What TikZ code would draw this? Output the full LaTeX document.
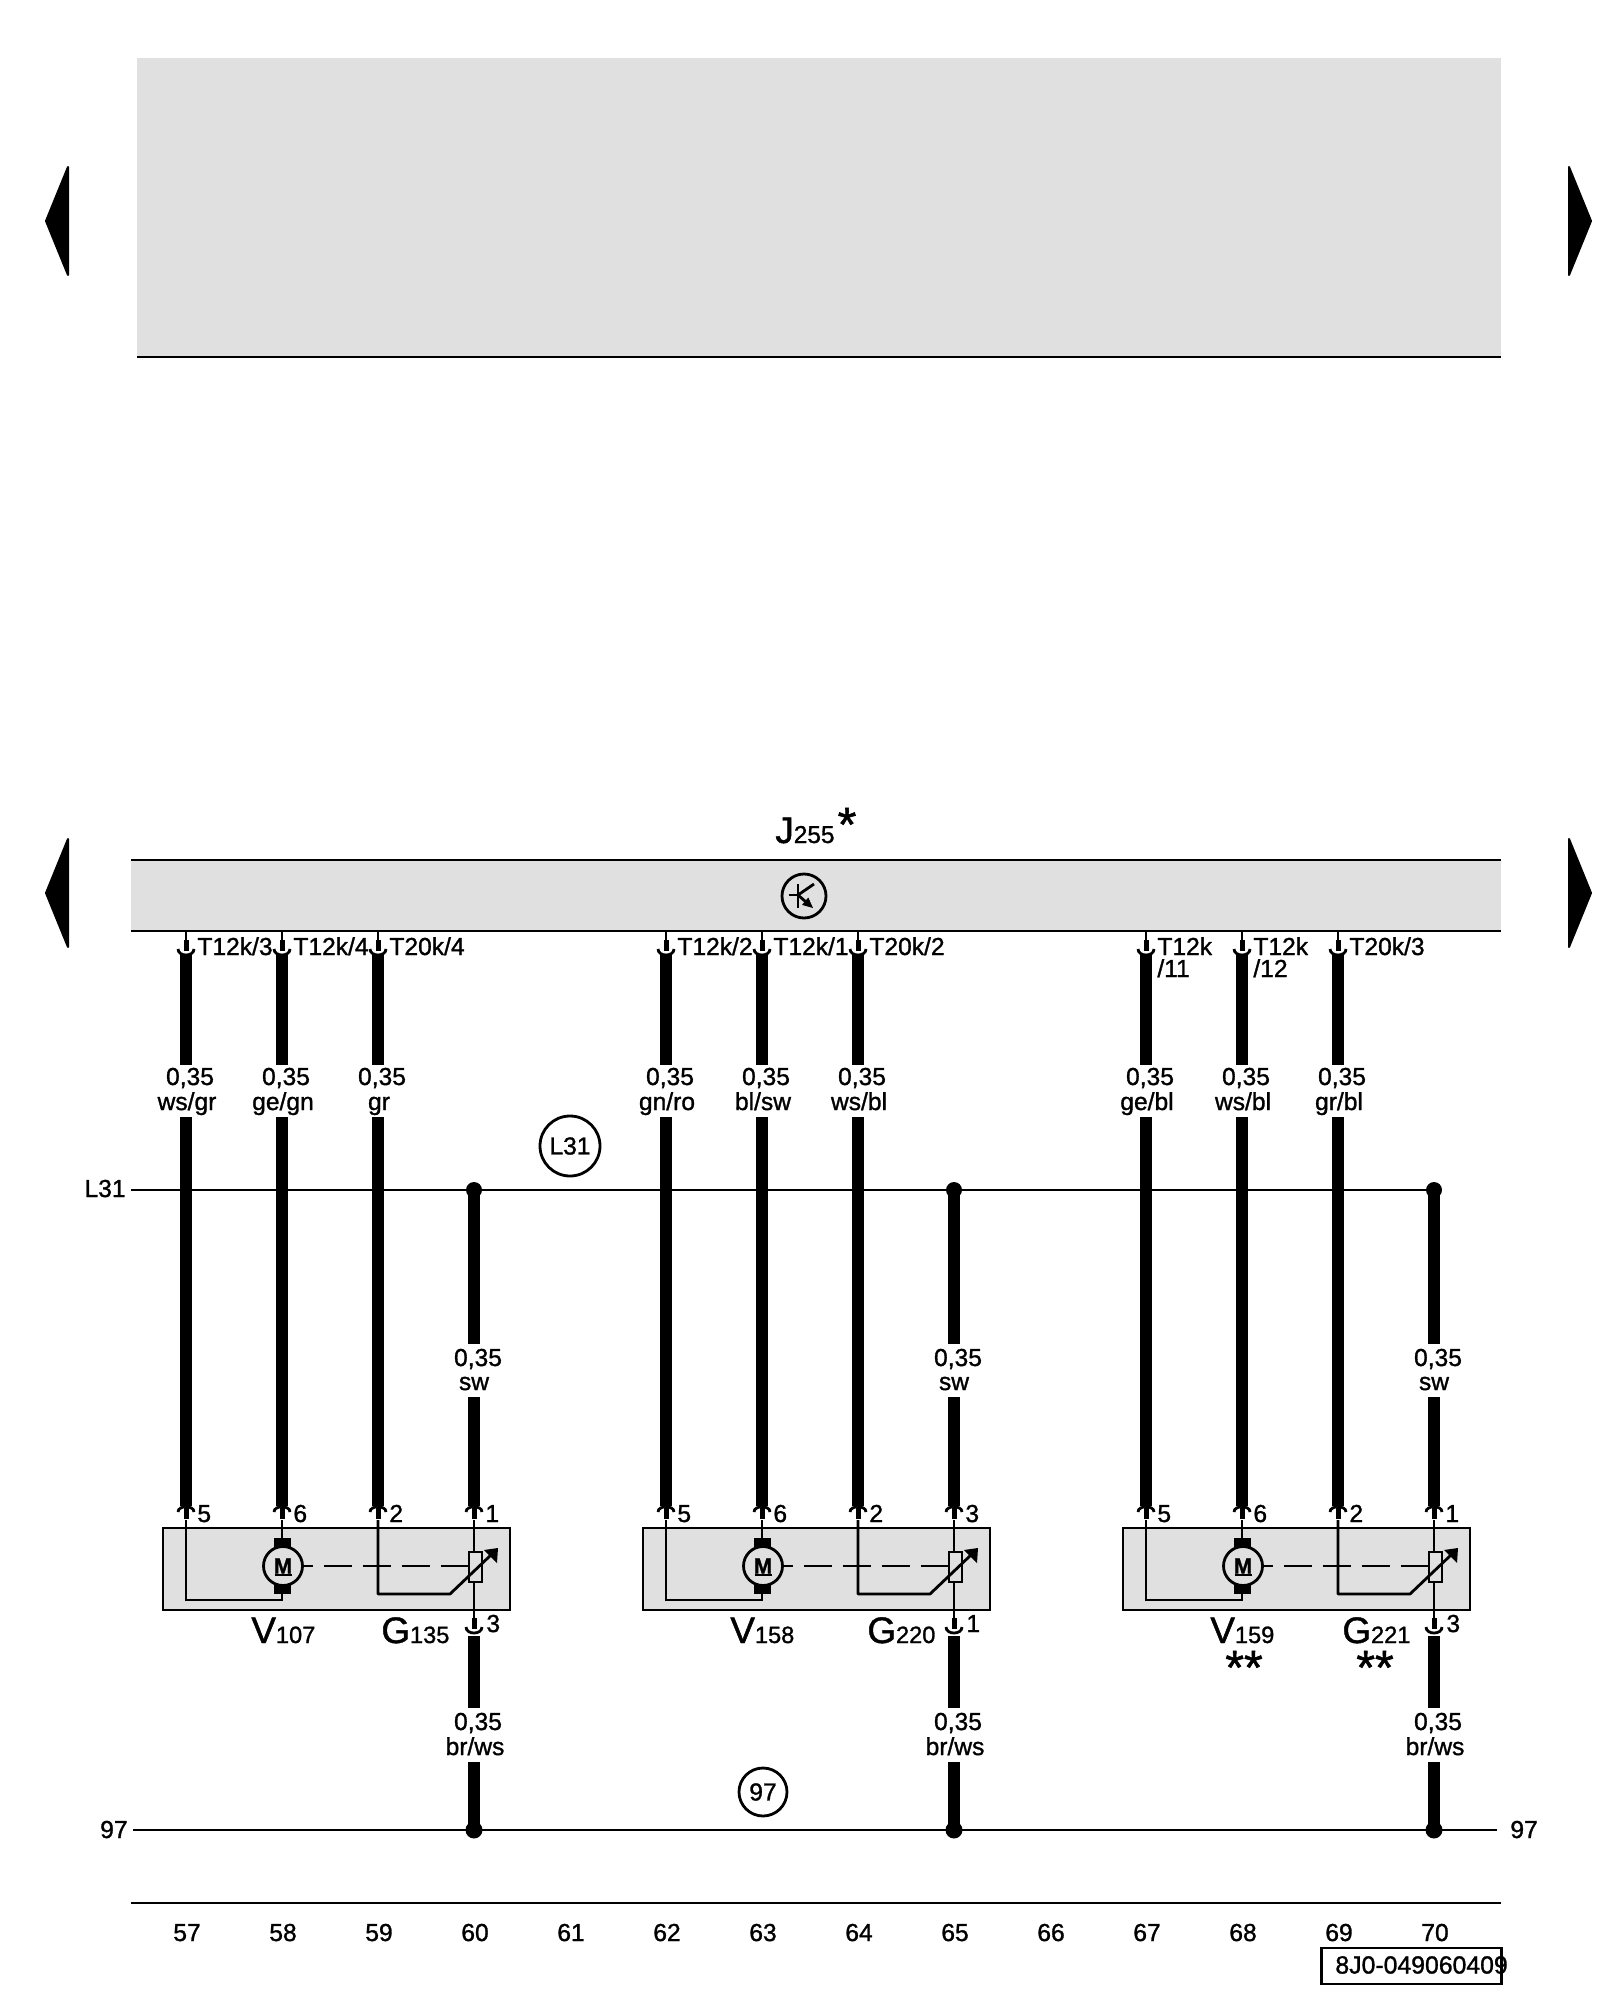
\documentclass[tikz,border=0pt]{standalone}
\usepackage{fontspec}
\setmainfont[RawFeature={embolden=1.2}]{Liberation Sans}
\definecolor{boxgray}{HTML}{E0E0E0}
\tikzset{
  thinw/.style={line width=1.4pt},
  thickw/.style={line width=6.2pt},
  stubw/.style={line width=2.5pt},
  lab/.style={font=\fontsize{12.3}{14}\selectfont,inner sep=0pt,anchor=base},
  labw/.style={lab,anchor=base west},
  labe/.style={lab,anchor=base east},
  namew/.style={inner sep=0pt,anchor=base west},
  starn/.style={font=\fontsize{24}{26}\selectfont,inner sep=0pt,anchor=base},
  ringn/.style={draw,circle,line width=1.4pt,inner sep=0pt,anchor=center},
  navarrow/.style={fill=black,draw=black,line width=1pt,line join=round},
}
\newcommand\bigname[2]{{\fontsize{18.4}{20}\selectfont #1}{\fontsize{11.8}{13}\selectfont #2}}
% connector seen from the control unit (cup opens upward)
\newcommand\cupdown[2]{%
  \draw[stubw] (#1,#2-9) -- (#1,#2+2);
  \draw[thinw] ({#1-8},#2) .. controls ({#1-8},#2+8) and ({#1+8},#2+8) .. ({#1+8},#2);}
% connector seen from the component (cup opens downward)
\newcommand\cupup[2]{%
  \draw[stubw] (#1,#2-4) -- (#1,#2+7);
  \draw[thinw] ({#1-8},#2) .. controls ({#1-8},#2-7) and ({#1+8},#2-7) .. ({#1+8},#2);}
% x, name, colour, pin text, pin number
\newcommand\uplink[5]{%
  \coordinate (#2a) at (#1,931);
  \coordinate (#2b) at (#1,945);
  \coordinate (#2c) at (#1,955);
  \coordinate (#2d) at (#1,1065);
  \coordinate (#2e) at (#1,1117);
  \coordinate (#2f) at (#1,1506);
  \draw[thinw] (#2a) -- (#2b);
  \cupdown{#1}{949}
  \draw[thickw] (#2c) -- (#2d);
  \draw[thickw] (#2e) -- (#2f);
  \cupup{#1}{1512}
  \node[lab] at ({#1+4},1085) {0,35};
  \node[lab] at ({#1+1},1110) {#3};
  \node[labw] at ({#1+11},955) {#4};
  \node[labw] at ({#1+11},1522) {#5};}
% x, name, pin number (L31 feed)
\newcommand\feedlink[3]{%
  \coordinate (#2a) at (#1,1190);
  \coordinate (#2b) at (#1,1344);
  \coordinate (#2c) at (#1,1397);
  \coordinate (#2d) at (#1,1506);
  \draw[thickw] (#2a) -- (#2b);
  \draw[thickw] (#2c) -- (#2d);
  \fill (#2a) circle[radius=8];
  \cupup{#1}{1512}
  \node[lab] at ({#1+4},1366) {0,35};
  \node[lab] at (#1,1390) {sw};
  \node[labw] at ({#1+11},1522) {#3};}
% x, name, pin number (97 return)
\newcommand\returnlink[3]{%
  \coordinate (#2a) at (#1,1636);
  \coordinate (#2b) at (#1,1708);
  \coordinate (#2c) at (#1,1762);
  \coordinate (#2d) at (#1,1830);
  \cupdown{#1}{1627}
  \draw[thickw] (#2a) -- (#2b);
  \draw[thickw] (#2c) -- (#2d);
  \fill (#2d) circle[radius=8.5];
  \node[lab] at ({#1+4},1730) {0,35};
  \node[lab] at ({#1+1},1755) {br/ws};
  \node[labw] at ({#1+12},1632) {#3};}
% x shift, name prefix
\newcommand\actuator[2]{%
  \begin{scope}[shift={(#1,0)}]
    \draw[thinw,fill=boxgray] (163,1528) rectangle (510,1610);
    % motor
    \fill (274,1538) rectangle (291,1548);
    \fill (274,1585) rectangle (291,1594);
    \node[draw,circle,thinw,fill=boxgray,minimum size=19.5pt,inner sep=0pt,
          font=\fontsize{11}{13}\selectfont\bfseries] (#2mot) at (283,1566) {M};
    \coordinate (#2ua) at (275,1575);
    \coordinate (#2ub) at (292,1575);
    \draw[line width=1pt] (#2ua) -- (#2ub);
    % potentiometer
    \node[draw,rectangle,thinw,fill=boxgray,minimum width=6.5pt,minimum height=15pt,inner sep=0pt] (#2res) at (475.5,1567) {};
    \draw[thinw,dash pattern=on 14pt off 5.5pt,dash phase=9.5pt] (#2mot.east) -- (#2mot.east -| #2res.west);
    % wiring
    \coordinate (#2p1) at (186,1520);
    \coordinate (#2p1b) at (186,1600);
    \coordinate (#2p2) at (282,1520);
    \coordinate (#2p3) at (378,1520);
    \coordinate (#2p3b) at (378,1594);
    \coordinate (#2p3c) at (450,1594);
    \coordinate (#2tip) at (492,1554);
    \coordinate (#2p4) at (474,1520);
    \coordinate (#2p5) at (474,1627);
    \draw[thinw] (#2p1) -- (#2p1b) -- (282,1600) -- (282,1594);
    \draw[thinw] (#2p2) -- (282,1538);
    \draw[thinw,line join=round] (#2p3) -- (#2p3b) -- (#2p3c) -- (#2tip);
    \fill (498,1548) -- (484,1550) -- (497,1563) -- cycle;
    \draw[thinw] (#2p4) -- (#2p4 |- #2res.north);
    \draw[thinw] (#2p4 |- #2res.south) -- (#2p5);
  \end{scope}}
\begin{document}
\begin{tikzpicture}[x=0.5pt,y=-0.5pt]
\useasboundingbox (0,0) rectangle (1600,2000);
% upper empty panel
\fill[boxgray] (137,58) rectangle (1501,357);
\coordinate (pa) at (137,357);
\coordinate (pb) at (1501,357);
\draw[thinw] (pa) -- (pb);
% navigation arrows
\draw[navarrow] (46,221) -- (68,167) -- (68,275) -- cycle;
\draw[navarrow] (1591,221) -- (1569,167) -- (1569,275) -- cycle;
\draw[navarrow] (46,893) -- (68,839) -- (68,947) -- cycle;
\draw[navarrow] (1591,893) -- (1569,839) -- (1569,947) -- cycle;
% control unit band
\fill[boxgray] (131,860) rectangle (1501,931);
\coordinate (ba) at (131,860);
\coordinate (bb) at (1501,860);
\coordinate (bc) at (131,931);
\coordinate (bd) at (1501,931);
\draw[thinw] (ba) -- (bb);
\draw[thinw] (bc) -- (bd);
% transistor symbol
\node[ringn,minimum size=22pt] (tr) at (804,896) {};
\draw[thinw] (798,884) -- (798,908);
\draw[thinw] (789,895) -- (798,895);
\draw[thinw] (798,895) -- (814,884);
\draw[thinw] (798,895) -- (806,902);
\fill (813,908) -- (808.3,897.5) -- (802,904.9) -- cycle;
\node[namew] at (775,843) {{\fontsize{18.4}{20}\selectfont J}{\fontsize{12.2}{14}\selectfont 255}};
\node[starn] at (847,841) {*};
% bus lines
\coordinate (La) at (131,1190);
\coordinate (Lb) at (1434,1190);
\draw[thinw] (La) -- (Lb);
\node[labe] at (126,1197) {L31};
\node[ringn,minimum size=30pt,font=\fontsize{12.3}{14}\selectfont] at (570,1146) {L31};
\coordinate (Ra) at (133,1830);
\coordinate (Rb) at (1497,1830);
\draw[thinw] (Ra) -- (Rb);
\node[labe] at (128,1838) {97};
\node[labw] at (1510,1838) {97};
\node[ringn,minimum size=24pt,font=\fontsize{12.3}{14}\selectfont] at (763,1792) {97};
% actuators
\actuator{0}{A}
\actuator{480}{B}
\actuator{960}{C}
% wires
\uplink{186}{a}{ws/gr}{T12k/3}{5}
\uplink{282}{b}{ge/gn}{T12k/4}{6}
\uplink{378}{c}{gr}{T20k/4}{2}
\feedlink{474}{d}{1}
\returnlink{474}{e}{3}
\uplink{666}{f}{gn/ro}{T12k/2}{5}
\uplink{762}{g}{bl/sw}{T12k/1}{6}
\uplink{858}{h}{ws/bl}{T20k/2}{2}
\feedlink{954}{i}{3}
\returnlink{954}{j}{1}
\uplink{1146}{k}{ge/bl}{T12k}{5}
\uplink{1242}{l}{ws/bl}{T12k}{6}
\uplink{1338}{m}{gr/bl}{T20k/3}{2}
\feedlink{1434}{n}{1}
\returnlink{1434}{o}{3}
\node[labw] at (1157,977) {/11};
\node[labw] at (1253,977) {/12};
% component names
\node[namew] at (251,1643) {\bigname{V}{107}};
\node[namew] at (381,1643) {\bigname{G}{135}};
\node[namew] at (730,1643) {\bigname{V}{158}};
\node[namew] at (867,1643) {\bigname{G}{220}};
\node[namew] at (1210,1643) {\bigname{V}{159}};
\node[namew] at (1342,1643) {\bigname{G}{221}};
\node[starn] at (1244,1684) {**};
\node[starn] at (1375,1684) {**};
% bottom scale
\coordinate (Sa) at (131,1903);
\coordinate (Sb) at (1501,1903);
\draw[thinw] (Sa) -- (Sb);
\foreach \n [count=\k from 0] in {57,58,59,60,61,62,63,64,65,66,67,68,69,70}
  \node[lab] at ({187+96*\k},1941) {\n};
\node[draw,thinw,inner sep=0pt,minimum width=90pt,minimum height=18pt] (ref) at (1411.5,1966) {};
\node[namew,font=\fontsize{12.4}{14}\selectfont] at (1335,1973.5) {8J0-049060409};
\end{tikzpicture}
\end{document}
